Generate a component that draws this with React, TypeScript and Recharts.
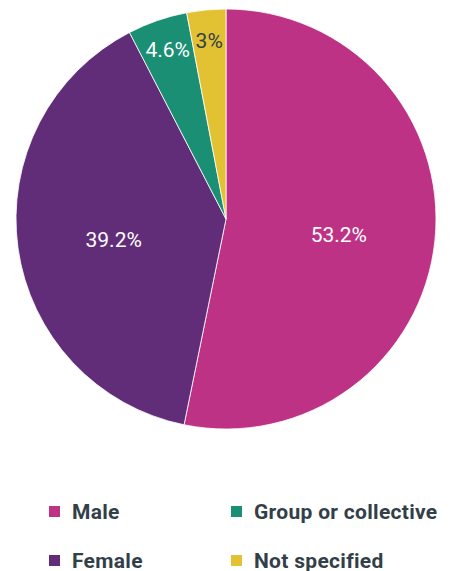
import React from "react";
import { PieChart, Pie, Cell, Legend } from "recharts";

const categories = ["Male", "Female", "Group or collective", "Not specified"];
const shares = [53.2, 39.2, 4.6, 3];
const shareLabels = ["53.2%", "39.2%", "4.6%", "3%"];
const colors = ["#BE3285", "#622D78", "#1A8F73", "#E2C233"];
const labelColors = ["#ffffff", "#ffffff", "#ffffff", "#333F48"];
const legendOrder = ["Male", "Group or collective", "Female", "Not specified"];

const data = categories.map((name, i) => ({ name, value: shares[i], label: shareLabels[i] }));

const RAD = Math.PI / 180;

const renderLabel = (props: any) => {
  const { cx, cy, midAngle, outerRadius, index, percent } = props;
  const r = percent < 0.1 ? outerRadius * 0.85 : outerRadius * 0.54;
  const x = cx + r * Math.cos(-midAngle * RAD);
  const y = cy + r * Math.sin(-midAngle * RAD);
  return (
    <text
      x={x}
      y={y + (percent < 0.1 ? 0 : 5)}
      fill={labelColors[index]}
      textAnchor="middle"
      dominantBaseline="central"
      fontSize={21}
      fontFamily="Roboto, sans-serif"
    >
      {data[index].label}
    </text>
  );
};

const LegendContent = () => (
  <div
    style={{
      display: "grid",
      gridTemplateColumns: "182px 210px",
      rowGap: 26,
      fontFamily: "Roboto, sans-serif",
      fontWeight: 700,
      fontSize: 21,
      letterSpacing: 0.3,
      color: "#333F48",
    }}
  >
    {legendOrder.map((name) => {
      const i = categories.indexOf(name);
      return (
        <div key={name} style={{ display: "flex", alignItems: "center", height: 23, whiteSpace: "nowrap" }}>
          <span
            style={{
              display: "inline-block",
              width: 11,
              height: 11,
              background: colors[i],
              marginRight: 12,
              flexShrink: 0,
            }}
          />
          <span>{name}</span>
        </div>
      );
    })}
  </div>
);

export default function App() {
  return (
    <PieChart width={437} height={563} margin={{ top: 0, right: 0, bottom: 0, left: 0 }}>
      <Pie
        data={data}
        dataKey="value"
        nameKey="name"
        cx={218}
        cy={211}
        outerRadius={210}
        startAngle={90}
        endAngle={-270}
        stroke="#ffffff"
        strokeWidth={0.8}
        label={renderLabel}
        labelLine={false}
        isAnimationActive={false}
      >
        {data.map((d, i) => (
          <Cell key={d.name} fill={colors[i]} />
        ))}
      </Pie>
      <Legend
        content={<LegendContent />}
        wrapperStyle={{ position: "absolute", left: 41, top: 492, width: 400 }}
      />
    </PieChart>
  );
}
